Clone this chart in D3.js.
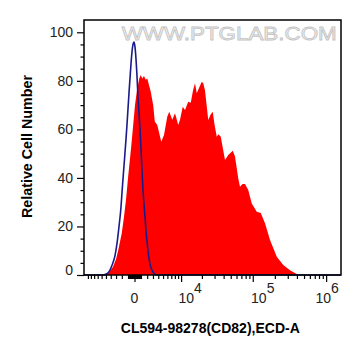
<!DOCTYPE html>
<html><head><meta charset="utf-8">
<script src="https://cdn.jsdelivr.net/npm/d3@7/dist/d3.min.js"></script>
<style>body{margin:0;background:#fff}svg{display:block}</style>
</head><body>
<svg id="c" width="361" height="356"></svg>
<script>
// Histogram data in display channels (0..1028) of the biexponential axis; values in % of max
const redChannel = [88,100,116,128,137,151,160,168,177,188,197,204,211,221,227,233,240,247,253,267,277,283,293,309,320,333,341,353,364,377,384,395,404,417,427,436,444,451,460,471,477,484,497,506,515,522,531,538,547,564,577,595,604,617,624,634,644,657,671,691,707,724,744,771,797,824,851,876];
const redPercent = [0,1,3.4,6.5,10.3,17.2,24,31,41,52,62,70,75.5,81,82.4,81,82,80.5,81,75.5,69.8,63.2,61.8,54.9,57.7,65.2,67.3,64,66.6,61.8,64,69.3,68,71.4,71,76,79,74.9,77,79.6,79,76,63.9,66,67.3,62,57,58,57,47.4,49.4,51.2,48.8,39.8,36.4,37.5,37.5,35,29.5,26.1,25.5,21.3,14.4,7.5,4.1,2,0.4,0];
const blueChannel = [0,76,92,104,112,124,132,140,148,152,160,168,172,180,188,192,196,200,204,208,212,216,220,224,228,232,236,240,244,248,252,256,260,264,272,280,288,1028];
const bluePercent = [0,0,0.5,2,4,8,13,20,28,34,45,56,62,75,87,92,95,96,94,89,82,73,67,60,52,43,35,29,24,18,14,10,7,4.5,2,0.7,0,0];

const yMajorTicks = [0,20,40,60,80,100];
const yMinorTicks = [5,10,15,25,30,35,45,50,55,65,70,75,85,90,95];
const xMajorValues = [0,1e4,1e5,1e6];
const xLabelBase = ["0","10","10","10"];
const xLabelExp = ["","4","5","6"];
const xLabelShift = [0,9,10,1];
const xMinorValues = [-10000,-9000,-8000,-7000,-6000,-5000,-4000,-3000,-2000,-1000,
  -900,-800,-700,-600,-500,-400,-300,-200,-100,100,200,300,400,500,600,700,800,900,
  1000,2000,3000,4000,5000,6000,7000,8000,9000,
  2e4,3e4,4e4,5e4,6e4,7e4,8e4,9e4,2e5,3e5,4e5,5e5,6e5,7e5,8e5,9e5];

const xTitle = "CL594-98278(CD82),ECD-A";
const yTitle = "Relative Cell Number";
const watermark = "WWW.PTGLAB.COM";

// biexponential (arcsinh) transform from intensity to display channel
const W = 4900, CH0 = 202, CH_PER_DECADE = 293.6;
const toChannel = v => CH0 + CH_PER_DECADE * Math.asinh(v / W) / Math.LN10;

const L = 84, R = 341, T = 20, B = 275;
const x = d3.scaleLinear().domain([0, 1028]).range([L, R]);
const y = d3.scaleLinear().domain([0, 100]).range([B, 32.3]);
const font = "'Liberation Sans', Arial, sans-serif";

const svg = d3.select("#c");

// watermark
svg.append("text").attr("x", 121.7).attr("y", 40)
  .attr("font-family", font).attr("font-size", 18)
  .attr("textLength", 215).attr("lengthAdjust", "spacingAndGlyphs")
  .attr("fill", "#f4f4f4").attr("stroke", "#c4c4c4").attr("stroke-width", 0.8)
  .text(watermark);

// red histogram
const redData = redChannel.map((c, i) => [c, redPercent[i]]);
svg.append("path").datum(redData)
  .attr("fill", "#ff0000")
  .attr("d", d3.area().x(d => x(d[0])).y0(y(0)).y1(d => y(d[1])).curve(d3.curveLinear));

// blue control line
const blueData = blueChannel.map((c, i) => [c, bluePercent[i]]);
svg.append("path").datum(blueData)
  .attr("fill", "none").attr("stroke", "#1a1a8a").attr("stroke-width", 1.6)
  .attr("d", d3.line().x(d => x(d[0])).y(d => y(d[1])).curve(d3.curveMonotoneX));

// frame
svg.append("rect").attr("x", L).attr("y", T).attr("width", R - L).attr("height", B - T)
  .attr("fill", "none").attr("stroke", "#000").attr("stroke-width", 1.5);

// y axis
const yAxisMajor = svg.append("g").attr("transform", `translate(${L},0)`)
  .call(d3.axisLeft(y).tickValues(yMajorTicks).tickSize(7).tickPadding(4).tickFormat(d3.format("d")));
const yAxisMinor = svg.append("g").attr("transform", `translate(${L},0)`)
  .call(d3.axisLeft(y).tickValues(yMinorTicks).tickSize(3.5).tickFormat(""));

// x axis
const xAxisMajor = svg.append("g").attr("transform", `translate(0,${B})`)
  .call(d3.axisBottom(x).tickValues(xMajorValues.map(toChannel)).tickSize(7).tickFormat(""));
const xAxisMinor = svg.append("g").attr("transform", `translate(0,${B})`)
  .call(d3.axisBottom(x).tickValues(xMinorValues.map(toChannel)).tickSize(4).tickFormat(""));

[yAxisMajor, yAxisMinor, xAxisMajor, xAxisMinor].forEach(g => {
  g.select(".domain").remove();
  g.selectAll(".tick line").attr("stroke", "#000").attr("stroke-width", 1.2);
  g.selectAll("text").attr("font-family", font).attr("font-size", 14).attr("fill", "#222");
});
// the "0" label sits slightly above its tick in the reference
yAxisMajor.selectAll(".tick").filter(d => d === 0).select("text").attr("y", -4.5);

// x tick labels with superscripts
xMajorValues.forEach((v, i) => {
  const t = svg.append("text")
    .attr("x", x(toChannel(v)) + xLabelShift[i]).attr("y", 303)
    .attr("text-anchor", "middle").attr("font-family", font).attr("font-size", 14).attr("fill", "#222");
  t.append("tspan").text(xLabelBase[i]);
  if (xLabelExp[i]) t.append("tspan").attr("dy", -10).attr("font-size", 14).text(xLabelExp[i]);
});

// titles
svg.append("text").attr("x", 210.3).attr("y", 333.3).attr("text-anchor", "middle")
  .attr("font-family", font).attr("font-size", 14).attr("font-weight", "bold").attr("fill", "#000")
  .text(xTitle);
svg.append("text").attr("transform", "translate(31.7,146.5) rotate(-90)").attr("text-anchor", "middle")
  .attr("font-family", font).attr("font-size", 14.3).attr("font-weight", "bold").attr("fill", "#000")
  .text(yTitle);
</script>
</body></html>
